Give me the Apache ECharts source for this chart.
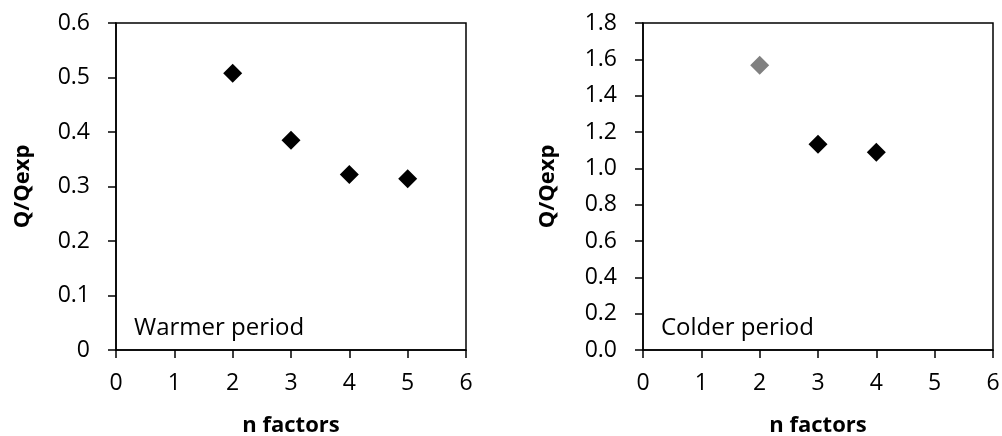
<!DOCTYPE html>
<html>
<head>
<meta charset="utf-8">
<script src="https://cdn.jsdelivr.net/npm/echarts@6/dist/echarts.min.js"></script>
<style>
  html, body { margin: 0; padding: 0; background: #fff; }
  #chart { width: 1002px; height: 436px; }
</style>
</head>
<body>
<div id="chart"></div>
<script>
// Number of factors vs Q/Qexp for the two periods
const warmerFactors = [2, 3, 4, 5];
const warmerRatio = [0.508, 0.385, 0.322, 0.314];

const colderFactors = [2, 3, 4];
const colderRatio = [1.568, 1.133, 1.089];
// the 2-factor colder solution is shown in grey, the rest in black
const colderColors = ['#808080', '#000000', '#000000'];

const xTicks = [0, 1, 2, 3, 4, 5, 6];
const panelLabels = ['Warmer period', 'Colder period'];

const FONT = '"Open Sans", Lato, sans-serif';

function xAxisFor(gridIndex) {
  return {
    type: 'value', gridIndex: gridIndex,
    min: xTicks[0], max: xTicks[xTicks.length - 1], interval: 1,
    name: 'n factors', nameLocation: 'middle', nameGap: 65,
    nameTextStyle: { fontFamily: FONT, fontSize: 22, fontWeight: 'bold', color: '#000' },
    axisLine: { show: true, onZero: false, lineStyle: { color: '#000', width: 1.5 } },
    axisTick: { show: true, inside: false, length: 8, lineStyle: { color: '#000', width: 1.5 } },
    axisLabel: { fontFamily: FONT, fontSize: 23, color: '#000', margin: 22 },
    splitLine: { show: false }
  };
}

function yAxisFor(gridIndex, max, interval, decimals, gap) {
  return {
    type: 'value', gridIndex: gridIndex,
    min: 0, max: max, interval: interval,
    name: 'Q/Qexp', nameLocation: 'middle', nameGap: gap,
    nameTextStyle: { fontFamily: FONT, fontSize: 22, fontWeight: 'bold', color: '#000' },
    axisLine: { show: true, onZero: false, lineStyle: { color: '#000', width: 1.5 } },
    axisTick: { show: true, inside: false, length: 8, lineStyle: { color: '#000', width: 1.5 } },
    axisLabel: {
      fontFamily: FONT, fontSize: 23, color: '#000', margin: 26,
      formatter: v => decimals === null ? String(+v.toFixed(1)) : v.toFixed(decimals)
    },
    splitLine: { show: false }
  };
}

const chart = echarts.init(document.getElementById('chart'), null, { renderer: 'canvas' });

chart.setOption({
  backgroundColor: '#fff',
  animation: false,
  grid: [
    { left: 116, right: 536, top: 23, bottom: 86, outerBoundsMode: 'none', containLabel: false,
      show: true, borderColor: '#000', borderWidth: 1.5, backgroundColor: 'transparent' },
    { left: 643, right: 9, top: 23, bottom: 86, outerBoundsMode: 'none', containLabel: false,
      show: true, borderColor: '#000', borderWidth: 1.5, backgroundColor: 'transparent' }
  ],
  xAxis: [xAxisFor(0), xAxisFor(1)],
  yAxis: [yAxisFor(0, 0.6, 0.1, null, 82), yAxisFor(1, 1.8, 0.2, 1, 84)],
  series: [
    {
      type: 'scatter', xAxisIndex: 0, yAxisIndex: 0,
      symbol: 'diamond', symbolSize: 19,
      itemStyle: { color: '#000', opacity: 1 },
      data: warmerFactors.map((x, i) => [x, warmerRatio[i]])
    },
    {
      type: 'scatter', xAxisIndex: 1, yAxisIndex: 1,
      symbol: 'diamond', symbolSize: 19,
      itemStyle: { opacity: 1 },
      data: colderFactors.map((x, i) => ({ value: [x, colderRatio[i]], itemStyle: { color: colderColors[i], opacity: 1 } }))
    }
  ],
  graphic: [
    { type: 'text', x: 134, y: 328, style: { text: panelLabels[0], font: '24px ' + FONT, fill: '#000', verticalAlign: 'middle' } },
    { type: 'text', x: 661, y: 328, style: { text: panelLabels[1], font: '24px ' + FONT, fill: '#000', verticalAlign: 'middle' } }
  ]
});
</script>
</body>
</html>
